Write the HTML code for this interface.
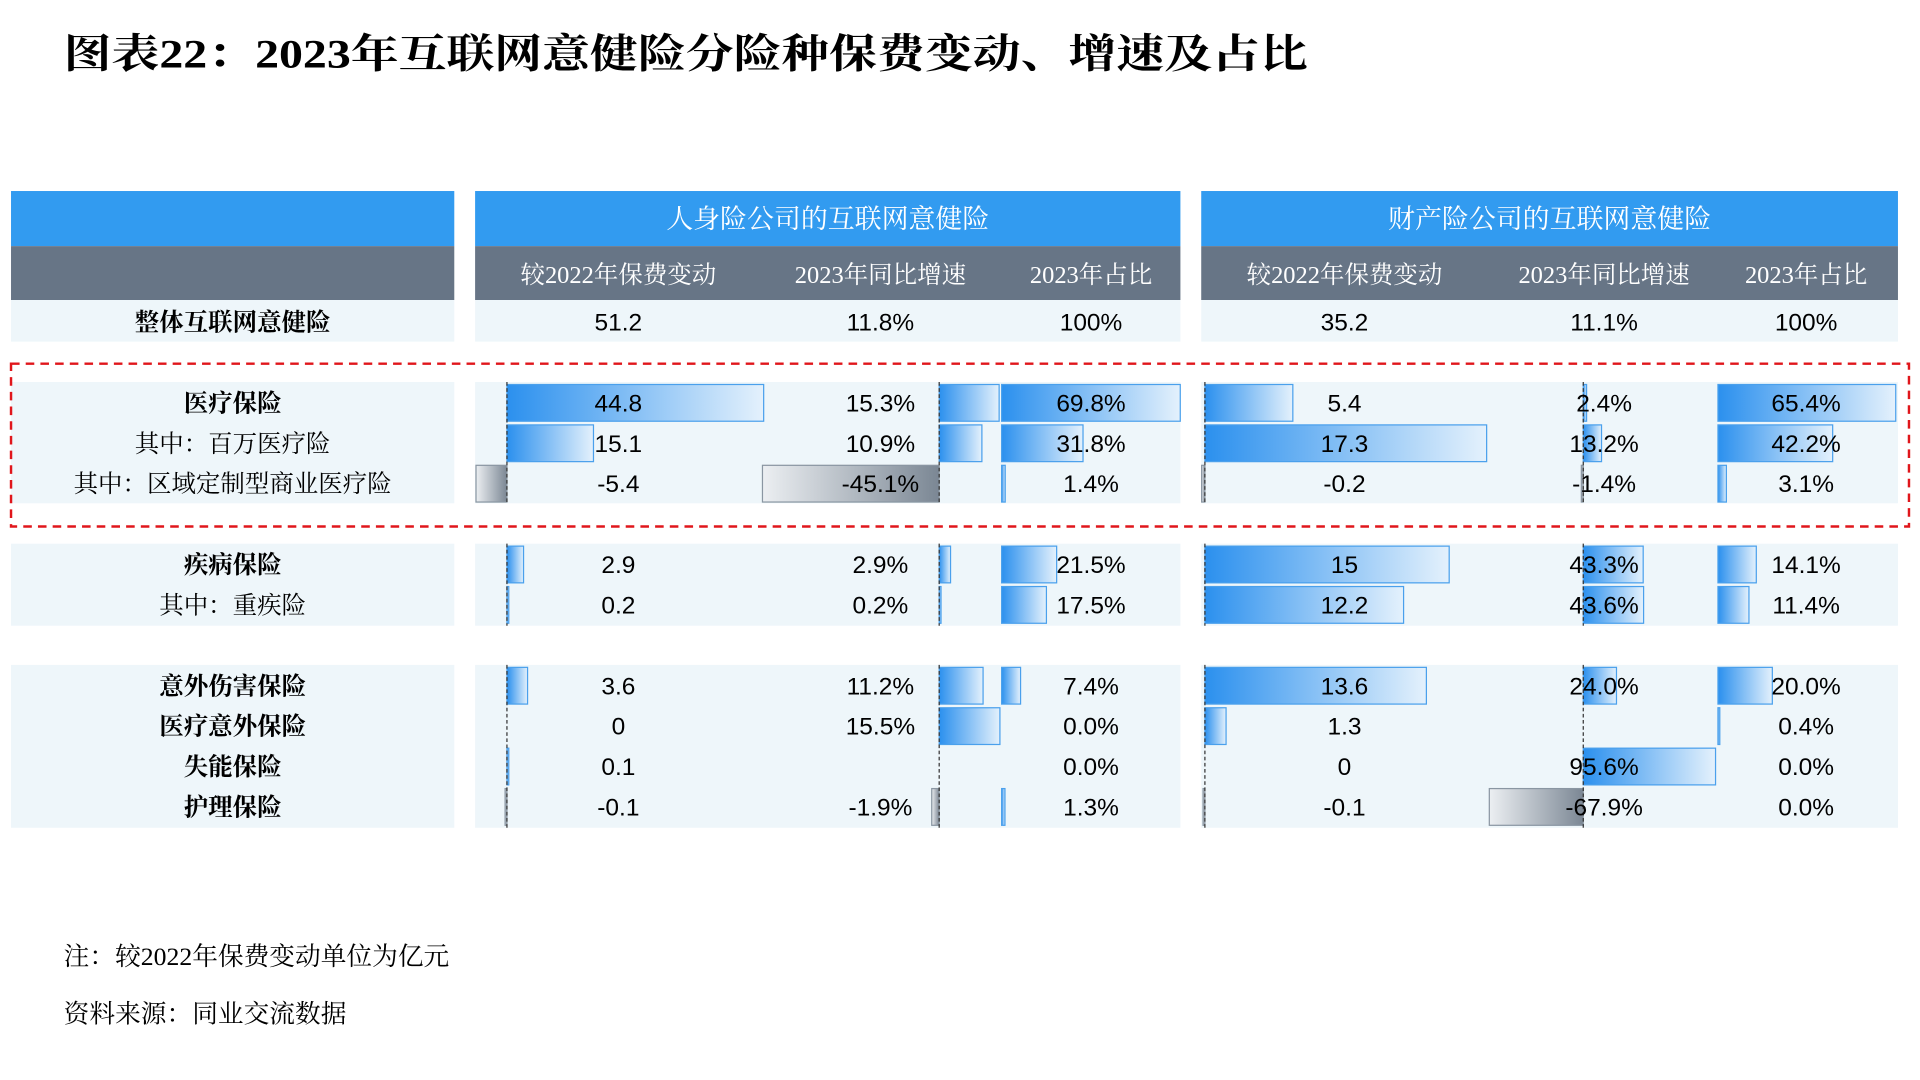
<!DOCTYPE html>
<html><head><meta charset="utf-8"><style>
html,body{margin:0;padding:0;background:#fff;}
svg{display:block;}
</style></head><body>
<svg id="chart" width="1920" height="1080" viewBox="0 0 1568 882" preserveAspectRatio="none" xmlns="http://www.w3.org/2000/svg">
<defs>
<linearGradient id="gpos" x1="0" y1="0" x2="1" y2="0"><stop offset="0" stop-color="#2b90ee"/><stop offset="1" stop-color="#e4f1fc"/></linearGradient>
<linearGradient id="gneg" x1="1" y1="0" x2="0" y2="0"><stop offset="0" stop-color="#7b8794"/><stop offset="1" stop-color="#eceff2"/></linearGradient>
</defs>
<text x="52" y="55" font-family="'Liberation Serif','Noto Serif CJK SC',serif" font-weight="bold" font-size="33" textLength="1016" lengthAdjust="spacingAndGlyphs" fill="#000">图表22：2023年互联网意健险分险种保费变动、增速及占比</text>
<g id="tbl"></g>
<text x="52" y="788" font-family="'Liberation Serif','Noto Serif CJK SC',serif" font-size="21" fill="#000">注：较2022年保费变动单位为亿元</text>
<text x="52" y="835" font-family="'Liberation Serif','Noto Serif CJK SC',serif" font-size="21" fill="#000">资料来源：同业交流数据</text>
</svg>
<script>
// ---- data ----
const categories = ["医疗保险","其中：百万医疗险","其中：区域定制型商业医疗险","疾病保险","其中：重疾险","意外伤害保险","医疗意外保险","失能保险","护理保险"];
const boldRows = [true,false,false,true,false,true,true,true,true];
const lifeChange = [44.8,15.1,-5.4,2.9,0.2,3.6,0,0.1,-0.1];
const lifeGrowth = [15.3,10.9,-45.1,2.9,0.2,11.2,15.5,null,-1.9];
const lifeShare = [69.8,31.8,1.4,21.5,17.5,7.4,0.0,0.0,1.3];
const propChange = [5.4,17.3,-0.2,15,12.2,13.6,1.3,0,-0.1];
const propGrowth = [2.4,13.2,-1.4,43.3,43.6,24.0,null,95.6,-67.9];
const propShare = [65.4,42.2,3.1,14.1,11.4,20.0,0.4,0.0,0.0];
const totalLife = ["51.2","11.8%","100%"];
const totalProp = ["35.2","11.1%","100%"];
const panelTitles = ["人身险公司的互联网意健险","财产险公司的互联网意健险"];
const colHeaders = ["较2022年保费变动","2023年同比增速","2023年占比"];

const NS="http://www.w3.org/2000/svg";
const g=document.getElementById('tbl');
function mk(tag,attrs,parent){const e=document.createElementNS(NS,tag);for(const k in attrs)e.setAttribute(k,attrs[k]);(parent||g).appendChild(e);return e;}
const SERIF="'Liberation Serif','Noto Serif CJK SC',serif";
const SANS="'Liberation Sans','Noto Sans CJK SC',sans-serif";

// layout
const sections=[{top:312,bot:411,rows:[0,1,2]},{top:444,bot:511,rows:[3,4]},{top:543,bot:676,rows:[5,6,7,8]}];
const rowCenter=[329,362,395,461,494,560,593,626,659];
const panels=[{x0:388,x1:964},{x0:981,x1:1550}];
// column axes: axis x, scale px/unit, text center, dashed
const cols=[
 {vals:lifeChange,axis:414,k:4.68,tc:505,dash:true,fmt:v=>String(v)},
 {vals:lifeGrowth,axis:767,k:3.2,tc:719,dash:true,fmt:v=>v.toFixed(1)+'%'},
 {vals:lifeShare,axis:818,k:2.09,tc:891,dash:false,fmt:v=>v.toFixed(1)+'%'},
 {vals:propChange,axis:984,k:13.3,tc:1098,dash:true,fmt:v=>String(v)},
 {vals:propGrowth,axis:1293,k:1.13,tc:1310,dash:true,fmt:v=>v.toFixed(1)+'%'},
 {vals:propShare,axis:1403,k:2.22,tc:1475,dash:false,fmt:v=>v.toFixed(1)+'%'}
];

// header bands
let e;
e=mk('rect',{x:9,y:156,width:362,height:45,fill:'#329bf0'});

e=mk('rect',{x:9,y:201,width:362,height:44,fill:'#677586'});

e=mk('rect',{x:9,y:245,width:362,height:34,fill:'#eef6fa'});

e=mk('text',{x:190,y:270,'text-anchor':'middle','font-family':SERIF,'font-weight':'bold','font-size':20,fill:'#000'});
e.textContent='整体互联网意健险';


panels.forEach((p,pi)=>{
  let r=mk('rect',{x:p.x0,y:156,width:p.x1-p.x0,height:45,fill:'#329bf0'});
  
  let t=mk('text',{x:(p.x0+p.x1)/2,y:186,'text-anchor':'middle','font-family':SERIF,'font-size':22,fill:'#fff'});
  t.textContent=panelTitles[pi];
  
  r=mk('rect',{x:p.x0,y:201,width:p.x1-p.x0,height:44,fill:'#677586'});
  
  r=mk('rect',{x:p.x0,y:245,width:p.x1-p.x0,height:34,fill:'#eef6fa'});
  
  const tot=pi===0?totalLife:totalProp;
  for(let c=0;c<3;c++){
    const col=cols[pi*3+c];
    t=mk('text',{x:col.tc-(c===0?0:0),y:231,'text-anchor':'middle','font-family':SERIF,'font-size':20,fill:'#fff'});
    t.textContent=colHeaders[c];
    
    t=mk('text',{x:col.tc,y:270,'text-anchor':'middle','font-family':SANS,'font-size':20,fill:'#000'});
    t.textContent=tot[c];
    
  }
});

// section backgrounds
sections.forEach(s=>{
  let r=mk('rect',{x:9,y:s.top,width:362,height:s.bot-s.top,fill:'#eef6fa'});
  
  panels.forEach(p=>{
    r=mk('rect',{x:p.x0,y:s.top,width:p.x1-p.x0,height:s.bot-s.top,fill:'#eef6fa'});
    
  });
});

// labels
categories.forEach((c,i)=>{
  const t=mk('text',{x:190,y:rowCenter[i]+7,'text-anchor':'middle','font-family':SERIF,'font-size':20,'font-weight':boldRows[i]?'bold':'normal',fill:'#000'});
  t.textContent=c;
  
});

// bars
cols.forEach((col,ci)=>{
  col.vals.forEach((v,i)=>{
    if(v===null||v===0)return;
    const w=Math.max(Math.abs(v)*col.k,1.5);
    const x=v>0?col.axis:col.axis-w;
    const b=mk('rect',{x:x,y:rowCenter[i]-15,width:w,height:30,fill:v>0?'url(#gpos)':'url(#gneg)',stroke:v>0?'#4aa0ec':'#8a96a2','stroke-width':1});
    
    
  });
});
// axes
cols.forEach(col=>{
  if(!col.dash)return;
  sections.forEach(s=>{
    const l=mk('line',{x1:col.axis,x2:col.axis,y1:s.top,y2:s.bot,stroke:'#333','stroke-width':1,'stroke-dasharray':'3,2'});
    
    
  });
});
// values
cols.forEach(col=>{
  col.vals.forEach((v,i)=>{
    if(v===null)return;
    const t=mk('text',{x:col.tc,y:rowCenter[i]+7,'text-anchor':'middle','font-family':SANS,'font-size':20,fill:'#000'});
    t.textContent=col.fmt(v);
    
    
  });
});
// highlight box
e=mk('rect',{x:9,y:297,width:1550,height:133,fill:'none',stroke:'#e0161b','stroke-width':2,'stroke-dasharray':'7,5'});

</script>
</body></html>
